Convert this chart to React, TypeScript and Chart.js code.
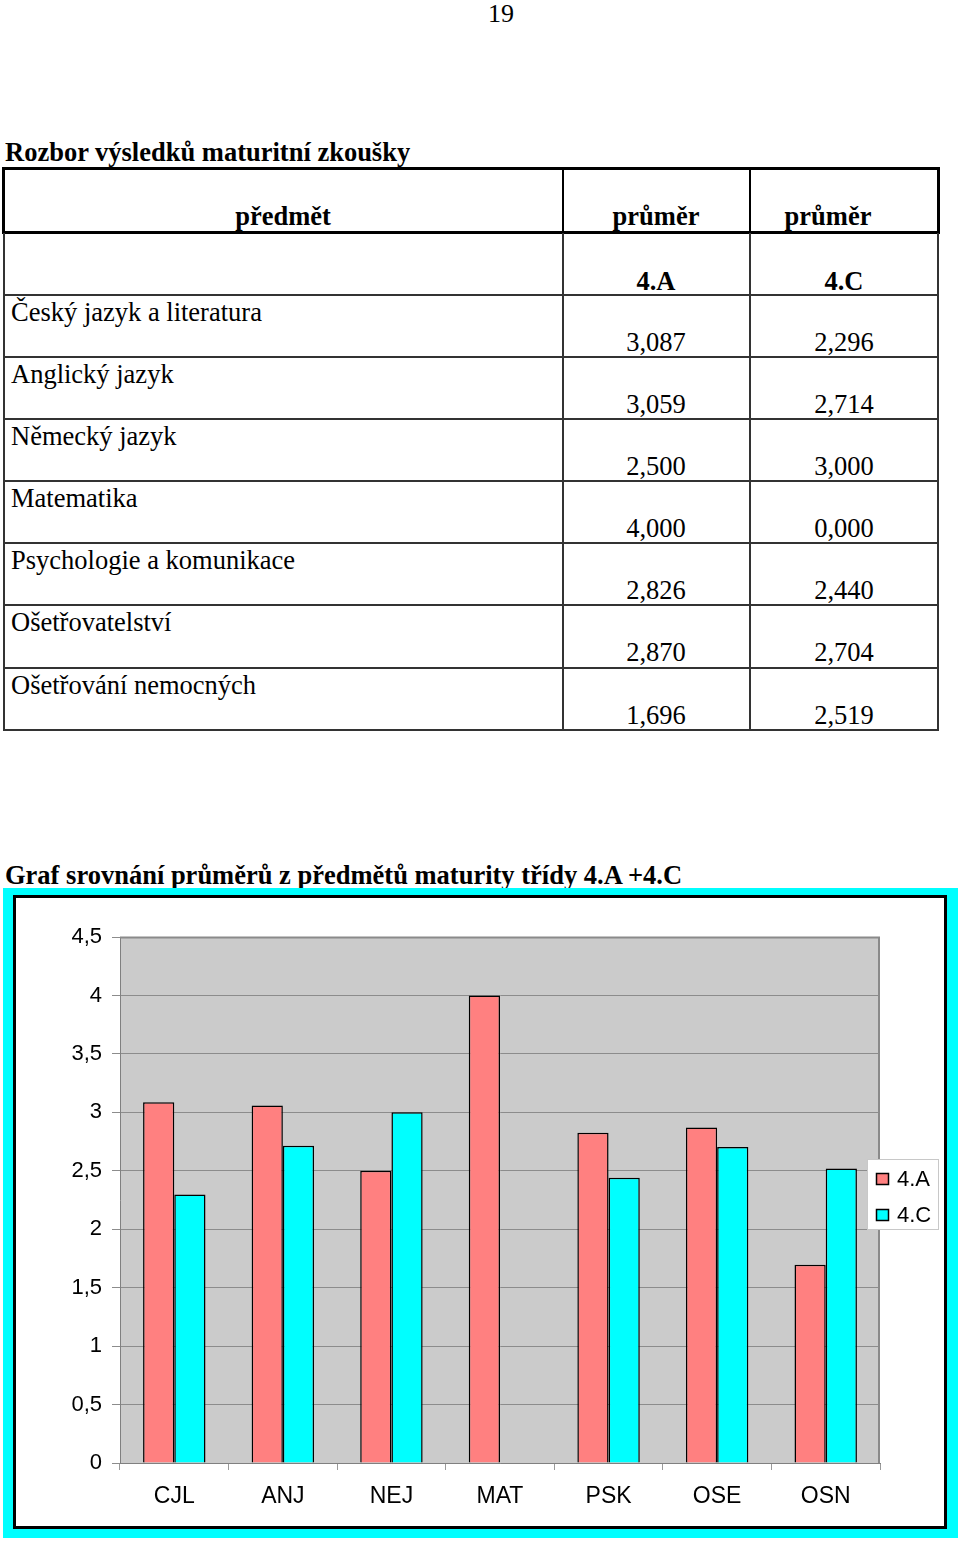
import React, { useEffect, useRef } from "react";
import { Chart, registerables } from "chart.js";

Chart.register(...registerables);

const subjects = [
  "Český jazyk a literatura",
  "Anglický jazyk",
  "Německý jazyk",
  "Matematika",
  "Psychologie a komunikace",
  "Ošetřovatelství",
  "Ošetřování nemocných",
];
const categories = ["CJL", "ANJ", "NEJ", "MAT", "PSK", "OSE", "OSN"];
const seriesNames = ["4.A", "4.C"];
const values4A = [3.087, 3.059, 2.5, 4.0, 2.826, 2.87, 1.696];
const values4C = [2.296, 2.714, 3.0, 0.0, 2.44, 2.704, 2.519];
const seriesColors = ["#FF8080", "#00FFFF"];

const SERIF = '"Liberation Serif", "Times New Roman", serif';
const SANS = '"Liberation Sans", Arial, sans-serif';

const fmt = (v: number) => v.toFixed(3).replace(".", ",");

function Txt(props: {
  x: number;
  base: number;
  size?: number;
  bold?: boolean;
  align?: "left" | "center";
  children: React.ReactNode;
}) {
  const size = props.size ?? 26.5;
  const top = props.base + 1 - Math.round(size * 0.84);
  const style: React.CSSProperties = {
    position: "absolute",
    top,
    fontFamily: SERIF,
    fontSize: size,
    lineHeight: `${size}px`,
    fontWeight: props.bold ? "bold" : "normal",
    whiteSpace: "nowrap",
    color: "#000",
  };
  if (props.align === "center") {
    style.left = props.x - 300;
    style.width = 600;
    style.textAlign = "center";
  } else {
    style.left = props.x;
  }
  return <div style={style}>{props.children}</div>;
}

function Line(props: { x: number; y: number; w: number; h: number; c?: string }) {
  return (
    <div
      style={{
        position: "absolute",
        left: props.x,
        top: props.y,
        width: props.w,
        height: props.h,
        background: props.c ?? "#222",
      }}
    />
  );
}

const bgPlugin = {
  id: "plotBg",
  beforeDraw(chart: any) {
    const { ctx, chartArea } = chart;
    ctx.save();
    ctx.fillStyle = "#CBCBCB";
    ctx.fillRect(chartArea.left, chartArea.top, chartArea.right - chartArea.left, chartArea.bottom - chartArea.top);
    ctx.restore();
  },
  afterDatasetsDraw(chart: any) {
    const { ctx, chartArea } = chart;
    ctx.save();
    ctx.strokeStyle = "#8a8a8a";
    ctx.lineWidth = 2;
    ctx.beginPath();
    ctx.moveTo(chartArea.left, chartArea.top + 0.5);
    ctx.lineTo(chartArea.right - 1, chartArea.top + 0.5);
    ctx.lineTo(chartArea.right - 1, chartArea.bottom);
    ctx.stroke();
    ctx.restore();
  },
  afterDraw(chart: any) {
    const { ctx, chartArea } = chart;
    const ds = chart.data.datasets;
    const bx = chartArea.right - 13;
    const by = chartArea.top + 222;
    const bw = 72;
    const bh = 71;
    ctx.save();
    ctx.fillStyle = "#ffffff";
    ctx.fillRect(bx, by, bw, bh);
    ctx.strokeStyle = "#c8c8c8";
    ctx.lineWidth = 1;
    ctx.strokeRect(bx + 0.5, by + 0.5, bw - 1, bh - 1);
    ds.forEach((d: any, i: number) => {
      const sy = by + 14 + i * 36;
      ctx.fillStyle = d.backgroundColor;
      ctx.fillRect(bx + 9, sy, 13, 12);
      ctx.strokeStyle = "#000";
      ctx.lineWidth = 1.5;
      ctx.strokeRect(bx + 9.5, sy + 0.5, 12, 11);
      ctx.fillStyle = "#000";
      ctx.font = `22px ${SANS}`;
      ctx.textBaseline = "middle";
      ctx.textAlign = "left";
      ctx.fillText(d.label, bx + 30, sy + 6.5);
    });
    ctx.restore();
  },
};

function BarChart() {
  const ref = useRef<HTMLCanvasElement | null>(null);
  useEffect(() => {
    if (!ref.current) return;
    const chart = new Chart(ref.current, {
      type: "bar",
      data: {
        labels: categories,
        datasets: [
          {
            label: seriesNames[0],
            data: values4A,
            backgroundColor: seriesColors[0],
            borderColor: "#000",
            borderWidth: 1.5,
            categoryPercentage: 0.575,
            barPercentage: 1,
          },
          {
            label: seriesNames[1],
            data: values4C,
            backgroundColor: seriesColors[1],
            borderColor: "#000",
            borderWidth: 1.5,
            categoryPercentage: 0.575,
            barPercentage: 1,
          },
        ],
      },
      options: {
        responsive: false,
        animation: false,
        devicePixelRatio: 1,
        layout: { padding: { left: 0, right: 64, top: 39, bottom: 0 } },
        plugins: {
          legend: { display: false },
          tooltip: { enabled: false },
          title: { display: false },
        },
        scales: {
          x: {
            grid: {
              offset: true,
              drawOnChartArea: false,
              drawTicks: true,
              tickLength: 7,
              color: "#9a9a9a",
            },
            border: { display: true, color: "#808080", width: 1 },
            ticks: {
              color: "#000",
              font: { family: SANS, size: 23 },
              padding: 13,
              maxRotation: 0,
            },
            afterFit: (s: any) => {
              s.height = 63;
            },
          },
          y: {
            min: 0,
            max: 4.5,
            grid: {
              color: "#8c8c8c",
              lineWidth: 1,
              drawTicks: true,
              tickLength: 8,
            },
            border: { display: true, color: "#808080", width: 1 },
            ticks: {
              stepSize: 0.5,
              color: "#000",
              font: { family: SANS, size: 22 },
              padding: 10,
              callback: (v: any) => String(v).replace(".", ","),
            },
            afterFit: (s: any) => {
              s.width = 104;
            },
          },
        },
      },
      plugins: [bgPlugin],
    });
    return () => chart.destroy();
  }, []);
  return (
    <canvas
      ref={ref}
      width={928}
      height={628}
      style={{ position: "absolute", left: 16, top: 898, width: 928, height: 628, display: "block" }}
    />
  );
}

export default function App() {
  const rowTops = [295, 357, 419, 481, 543, 605, 668];
  return (
    <div
      style={{
        position: "absolute",
        left: 0,
        top: 0,
        width: 960,
        height: 1541,
        background: "#fff",
        overflow: "hidden",
      }}
    >
      <Txt x={501} base={22} size={26} align="center">
        19
      </Txt>
      <Txt x={5} base={160} bold>
        Rozbor výsledků maturitní zkoušky
      </Txt>

      {/* header box */}
      <Line x={2} y={167} w={938} h={3} c="#000" />
      <Line x={2} y={231} w={938} h={3} c="#000" />
      <Line x={2} y={167} w={3} h={67} c="#000" />
      <Line x={937} y={167} w={3} h={67} c="#000" />
      <Line x={562} y={167} w={2} h={67} c="#000" />
      <Line x={749} y={167} w={2} h={67} c="#000" />
      {/* body lines */}
      <Line x={3} y={233} w={2} h={498} c="#333" />
      <Line x={562} y={233} w={2} h={498} c="#333" />
      <Line x={749} y={233} w={2} h={498} c="#333" />
      <Line x={937} y={233} w={2} h={498} c="#333" />
      {rowTops.map((t) => (
        <Line key={t} x={3} y={t - 1} w={936} h={1.5} c="#333" />
      ))}
      <Line x={3} y={729} w={936} h={2} c="#333" />

      <Txt x={283} base={224} bold align="center">
        předmět
      </Txt>
      <Txt x={656} base={224} bold align="center">
        průměr
      </Txt>
      <Txt x={828} base={224} bold align="center">
        průměr
      </Txt>
      <Txt x={656} base={289} bold align="center">
        {seriesNames[0]}
      </Txt>
      <Txt x={844} base={289} bold align="center">
        {seriesNames[1]}
      </Txt>
      {subjects.map((s, i) => (
        <React.Fragment key={s}>
          <Txt x={11} base={rowTops[i] + 25}>
            {s}
          </Txt>
          <Txt x={656} base={rowTops[i] + 55} align="center">
            {fmt(values4A[i])}
          </Txt>
          <Txt x={844} base={rowTops[i] + 55} align="center">
            {fmt(values4C[i])}
          </Txt>
        </React.Fragment>
      ))}

      <Txt x={5} base={883} bold>
        Graf srovnání průměrů z předmětů maturity třídy 4.A +4.C
      </Txt>

      <div
        style={{ position: "absolute", left: 3, top: 888, width: 955, height: 650, background: "#00FFFF" }}
      />
      <div
        style={{
          position: "absolute",
          left: 13,
          top: 895,
          width: 934,
          height: 634,
          boxSizing: "border-box",
          border: "3px solid #000",
          background: "#fff",
        }}
      />
      <BarChart />
    </div>
  );
}
